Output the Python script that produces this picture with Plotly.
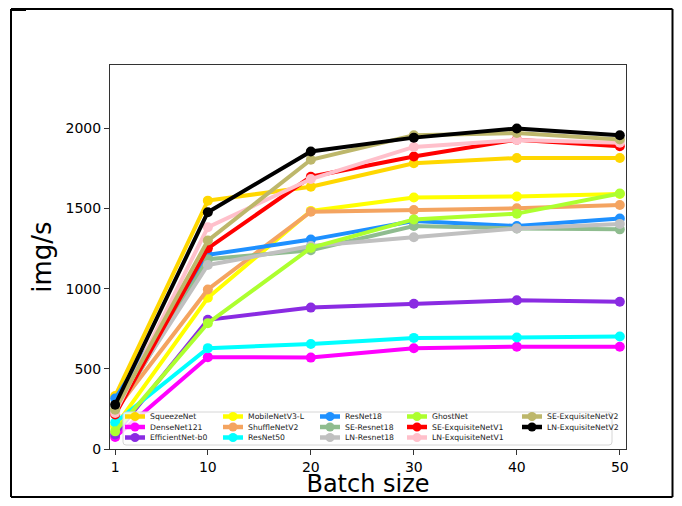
import plotly.graph_objects as go

batch = [1, 10, 20, 30, 40, 50]
x_ticks = [1, 10, 20, 30, 40, 50]
y_ticks = [0, 500, 1000, 1500, 2000]

names = ["SqueezeNet", "DenseNet121", "EfficientNet-b0", "MobileNetV3-L", "ShuffleNetV2",
         "ResNet50", "ResNet18", "SE-Resnet18", "LN-Resnet18", "GhostNet",
         "SE-ExquisiteNetV1", "LN-ExquisiteNetV1", "SE-ExquisiteNetV2", "LN-ExquisiteNetV2"]
colors = ["#FFD700", "#FF00FF", "#8A2BE2", "#FFFF00", "#F4A460",
          "#00FFFF", "#1E90FF", "#8FBC8F", "#C0C0C0", "#ADFF2F",
          "#FF0000", "#FFC0CB", "#BDB76B", "#000000"]

squeezenet = [330, 1549, 1636, 1782, 1815, 1815]
densenet121 = [75, 573, 570, 628, 638, 638]
efficientnet_b0 = [90, 806, 882, 906, 928, 918]
mobilenetv3_l = [140, 943, 1485, 1569, 1575, 1590]
shufflenetv2 = [240, 995, 1480, 1491, 1501, 1522]
resnet50 = [165, 629, 655, 693, 695, 702]
resnet18 = [315, 1211, 1306, 1422, 1391, 1438]
se_resnet18 = [230, 1184, 1240, 1391, 1376, 1370]
ln_resnet18 = [250, 1148, 1266, 1321, 1376, 1404]
ghostnet = [110, 785, 1254, 1432, 1468, 1594]
se_exq_v1 = [215, 1252, 1698, 1824, 1929, 1888]
ln_exq_v1 = [225, 1383, 1684, 1884, 1927, 1910]
se_exq_v2 = [245, 1300, 1804, 1957, 1971, 1930]
ln_exq_v2 = [276, 1477, 1856, 1942, 1999, 1957]

series = [squeezenet, densenet121, efficientnet_b0, mobilenetv3_l, shufflenetv2,
          resnet50, resnet18, se_resnet18, ln_resnet18, ghostnet,
          se_exq_v1, ln_exq_v1, se_exq_v2, ln_exq_v2]

# page body has an 8px margin on every side: size the figure so the page fits the window exactly
OFF = 8
W, H = 682 - 2 * OFF, 506 - 2 * OFF
L, R, T, B = 110 - OFF, 626 - OFF, 65 - OFF, 449 - OFF
pw, ph = R - L, B - T


def px(xp):
    # xp: horizontal pixel position in the 682x506 window
    return (xp - OFF - L) / pw


def py(yp):
    return (B - (yp - OFF)) / ph


fig = go.Figure()
for name, col, ys in zip(names, colors, series):
    fig.add_trace(go.Scatter(
        x=batch, y=ys, name=name, mode="lines+markers",
        line=dict(color=col, width=4),
        marker=dict(color=col, size=10),
        showlegend=False,
    ))

# ---- custom legend (matplotlib style, column-major, 3 rows x 5 columns) ----
leg_l, leg_r, leg_t, leg_b = 123, 612, 412, 445
rad = 3
path = (
    f"M {px(leg_l + rad)} {py(leg_t)} L {px(leg_r - rad)} {py(leg_t)} "
    f"Q {px(leg_r)} {py(leg_t)} {px(leg_r)} {py(leg_t + rad)} "
    f"L {px(leg_r)} {py(leg_b - rad)} Q {px(leg_r)} {py(leg_b)} {px(leg_r - rad)} {py(leg_b)} "
    f"L {px(leg_l + rad)} {py(leg_b)} Q {px(leg_l)} {py(leg_b)} {px(leg_l)} {py(leg_b - rad)} "
    f"L {px(leg_l)} {py(leg_t + rad)} Q {px(leg_l)} {py(leg_t)} {px(leg_l + rad)} {py(leg_t)} Z"
)
shapes = [dict(type="path", xref="paper", yref="paper", path=path,
               fillcolor="rgba(255,255,255,0.8)", line=dict(color="#d6d6d6", width=1),
               layer="above")]
annotations = []
col_marker_x = [135, 233, 330, 417, 532]
row_y = [416.5, 427.0, 437.5]
n_rows = 3
for i, (name, col) in enumerate(zip(names, colors)):
    c, r = divmod(i, n_rows)
    cx, cy = col_marker_x[c], row_y[r]
    shapes.append(dict(type="line", xref="paper", yref="paper",
                       x0=px(cx - 10), x1=px(cx + 10), y0=py(cy), y1=py(cy),
                       line=dict(color=col, width=4.5), layer="above"))
    shapes.append(dict(type="circle", xref="paper", yref="paper",
                       x0=px(cx - 4.5), x1=px(cx + 4.5), y0=py(cy + 4.5), y1=py(cy - 4.5),
                       fillcolor=col, line=dict(color=col, width=0), layer="above"))
    annotations.append(dict(xref="paper", yref="paper", x=px(cx + 13), y=py(cy),
                            xanchor="left", yanchor="middle", showarrow=False,
                            text=name, font=dict(size=7.7, color="#222", family="DejaVu Sans")))

# outer frame (kept inside the visible page area)
fl, fr, ft, fb = 11, 672.5, 9, 497
for (x0, y0, x1, y1) in [(fl, ft, fr, ft), (fl, fb, fr, fb), (fl, ft, fl, fb), (fr, ft, fr, fb)]:
    shapes.append(dict(type="line", xref="paper", yref="paper",
                       x0=px(x0), x1=px(x1), y0=py(y0), y1=py(y1),
                       line=dict(color="black", width=2), layer="above"))
shapes.append(dict(type="line", xref="paper", yref="paper",
                   x0=px(11), x1=px(26), y0=py(9.5), y1=py(9.5),
                   line=dict(color="black", width=3), layer="above"))

fig.update_layout(
    width=W, height=H,
    margin=dict(l=L, r=W - R, t=T, b=H - B, pad=0, autoexpand=False),
    paper_bgcolor="white", plot_bgcolor="white",
    font=dict(family="DejaVu Sans", color="black"),
    showlegend=False,
    xaxis=dict(
        range=[0.5, 50.6], tickmode="array", tickvals=x_ticks,
        ticktext=[str(v) for v in x_ticks], automargin=False,
        showgrid=False, zeroline=False, showline=True, linecolor="#333", linewidth=1,
        mirror=True, ticks="outside", ticklen=5, tickcolor="#333",
        tickfont=dict(size=14),
        title=dict(text="Batch size", font=dict(size=24), standoff=3),
    ),
    yaxis=dict(
        range=[0, 2395], tickmode="array", tickvals=y_ticks,
        ticktext=[str(v) for v in y_ticks], automargin=False,
        showgrid=False, zeroline=False, showline=True, linecolor="#333", linewidth=1,
        mirror=True, ticks="outside", ticklen=5, tickcolor="#333",
        tickfont=dict(size=14),
        title=dict(text="img/s", font=dict(size=26), standoff=6),
    ),
    shapes=shapes,
    annotations=annotations,
)

fig.write_html("out.html")
